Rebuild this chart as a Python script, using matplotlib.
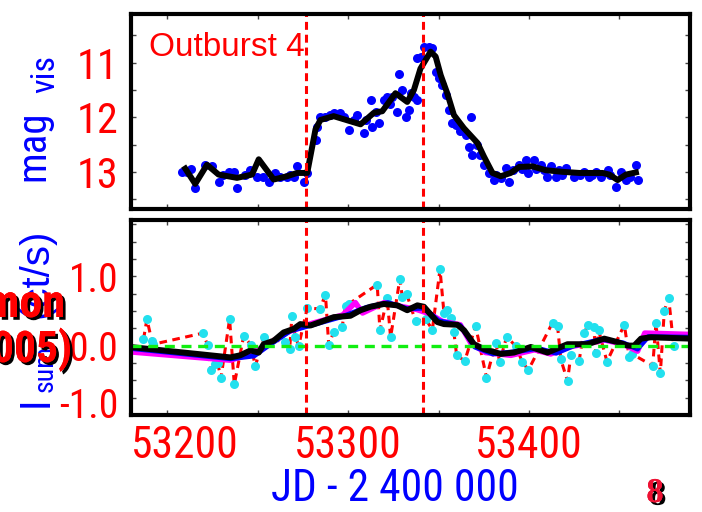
import matplotlib
matplotlib.use("Agg")
import matplotlib.pyplot as plt
import matplotlib.patheffects as pe
from matplotlib import font_manager as fm
from matplotlib.transforms import ScaledTranslation

# visual estimates, JD - 2400000
vis_jd = [53208.1, 53210.9, 53213.0, 53215.5, 53221.0, 53224.7, 53228.4, 53231.0, 53233.9,
          53236.7, 53238.6, 53243.2, 53246.0, 53249.7, 53253.0, 53256.1, 53259.8, 53262.6,
          53266.3, 53268.0, 53269.9, 53271.8, 53275.5, 53277.4, 53282.0, 53282.9, 53284.7,
          53287.5, 53290.0, 53292.1, 53295.8, 53298.0, 53300.4, 53303.2, 53305.0, 53308.7,
          53310.0, 53312.4, 53313.3, 53315.2, 53317.0, 53319.8, 53321.6, 53323.0, 53324.4,
          53327.2, 53328.1, 53330.0, 53331.8, 53333.6, 53335.0, 53336.4, 53338.3, 53338.3,
          53340.1, 53341.9, 53344.7, 53346.6, 53348.4, 53350.2, 53352.1, 53353.9, 53355.7,
          53357.6, 53359.5, 53362.0, 53365.0, 53366.8, 53367.8, 53368.7, 53371.5, 53373.0,
          53375.1, 53377.9, 53380.7, 53382.0, 53384.4, 53387.2, 53389.0, 53390.9, 53394.6,
          53396.0, 53398.2, 53399.2, 53402.8, 53404.0, 53406.5, 53408.4, 53410.2, 53412.0,
          53414.8, 53416.6, 53418.0, 53420.4, 53425.0, 53428.0, 53430.5, 53433.3, 53435.0,
          53437.0, 53439.8, 53443.5, 53445.0, 53448.1, 53450.8, 53453.6, 53456.0, 53459.1,
          53460.1]
vis_mag = [13.00, 13.00, 12.95, 13.30, 12.87, 12.90, 13.18, 13.05, 13.00,
           13.00, 13.30, 13.06, 12.97, 13.09, 13.10, 13.18, 13.03, 13.09,
           13.09, 13.05, 13.09, 12.90, 13.18, 13.03, 12.42, 12.17, 11.99,
           11.99, 11.95, 11.93, 11.93, 12.00, 12.23, 12.05, 11.96, 12.29,
           12.05, 11.69, 12.17, 11.90, 12.11, 11.69, 11.63, 11.75, 11.63,
           11.90, 11.20, 11.50, 11.99, 11.87, 11.55, 11.63, 11.69, 10.92,
           10.89, 10.71, 10.71, 10.74, 11.17, 11.29, 11.41, 11.59, 11.87,
           12.11, 12.14, 12.25, 12.33, 12.54, 11.99, 12.69, 12.51, 12.70,
           12.87, 13.03, 13.15, 13.05, 13.12, 12.93, 13.18, 12.97, 12.87,
           12.95, 12.78, 13.03, 12.78, 12.95, 12.87, 12.97, 13.09, 12.90,
           13.09, 12.97, 13.05, 12.93, 13.09, 13.05, 13.00, 13.09, 13.05,
           13.00, 13.09, 12.97, 13.05, 13.27, 13.00, 13.15, 13.10, 12.87,
           13.15]

# smoothed visual light curve
smooth_jd = [53210.0, 53215.5, 53222.0, 53228.4, 53238.6, 53246.9, 53250.6, 53258.9, 53266.3,
             53271.8, 53277.4, 53282.0, 53284.7, 53292.0, 53306.9, 53314.2, 53318.9, 53326.2,
             53332.7, 53336.4, 53340.0, 53345.6, 53348.4, 53351.2, 53354.8, 53358.5, 53364.0,
             53371.5, 53375.1, 53379.8, 53384.4, 53389.9, 53394.6, 53402.0, 53409.3, 53418.6,
             53427.8, 53440.7, 53444.4, 53449.0, 53453.6, 53459.1]
smooth_mag = [12.94, 13.22, 12.87, 13.05, 13.11, 13.05, 12.77, 13.14, 13.08,
              13.02, 13.02, 12.22, 12.05, 11.98, 12.13, 11.92, 11.89, 11.56,
              11.72, 11.50, 11.11, 10.80, 10.89, 11.23, 11.56, 11.96, 12.20,
              12.47, 12.72, 13.02, 13.08, 13.02, 12.91, 12.90, 12.97, 13.00,
              13.02, 13.02, 13.05, 13.15, 13.05, 13.01]

# count rate points
rate_jd = [53186.9, 53188.8, 53191.5, 53192.4, 53219.8, 53222.3, 53224.2, 53226.6, 53227.9,
           53229.7, 53234.5, 53237.1, 53242.3, 53246.3, 53248.7, 53253.3, 53265.3, 53267.7,
           53269.0, 53270.9, 53272.7, 53277.4, 53284.3, 53287.5, 53289.3, 53292.1, 53296.7,
           53298.6, 53300.4, 53316.1, 53317.6, 53321.6, 53323.5, 53328.6, 53330.0, 53332.3,
           53337.3, 53342.9, 53346.6, 53350.8, 53353.0, 53354.9, 53357.1, 53358.5, 53360.0,
           53364.5, 53370.5, 53376.5, 53381.6, 53383.8, 53387.7, 53392.7, 53396.4, 53399.7,
           53413.0, 53415.8, 53417.6, 53421.3, 53423.1, 53427.7, 53430.2, 53432.7, 53435.7,
           53437.0, 53438.5, 53443.1, 53452.7, 53455.4, 53456.9, 53468.4, 53470.2, 53472.6,
           53474.8, 53477.2, 53480.0]
rate_val = [0.09, 0.38, 0.07, 0.02, 0.18, 0.01, -0.35, -0.27, -0.25,
            -0.47, 0.38, -0.56, 0.14, 0.01, -0.30, 0.12, 0.05, -0.05,
            0.43, 0.12, 0.00, 0.54, 0.53, 0.73, 0.01, 0.20, 0.27,
            0.57, 0.60, 0.88, 0.22, 0.68, 0.12, 0.96, 0.70, 0.75,
            0.35, 0.38, 0.23, 1.10, 0.47, 0.52, 0.40, 0.19, -0.14,
            -0.22, 0.28, -0.46, 0.04, -0.23, 0.13, -0.01, -0.24, -0.35,
            0.33, 0.28, -0.20, -0.51, -0.14, -0.22, 0.18, 0.29, 0.27,
            -0.11, 0.22, -0.23, 0.30, -0.17, -0.12, -0.29, 0.33, -0.40,
            0.50, 0.69, -0.01]

# running means
mean_jd = [53179.5, 53234.9, 53240.4, 53246.0, 53250.6, 53253.3, 53258.9, 53264.4, 53269.9,
           53273.6, 53279.2, 53284.7, 53292.1, 53301.3, 53306.9, 53312.4, 53319.8, 53327.2,
           53332.7, 53338.3, 53341.9, 53349.3, 53353.0, 53360.4, 53364.1, 53369.6, 53375.1,
           53384.4, 53391.7, 53401.0, 53410.2, 53421.3, 53432.4, 53441.6, 53449.0, 53454.5,
           53458.2, 53461.9, 53467.4, 53490.0]
mean_val = [-0.02, -0.17, -0.14, -0.07, -0.10, 0.02, 0.07, 0.19, 0.24,
            0.31, 0.29, 0.34, 0.41, 0.43, 0.51, 0.56, 0.60, 0.58,
            0.51, 0.58, 0.56, 0.34, 0.31, 0.30, 0.22, 0.02, -0.05,
            -0.12, -0.10, -0.02, -0.10, 0.02, 0.02, 0.10, 0.05, 0.00,
            0.00, 0.10, 0.12, 0.10]

mag_jd = [53179.5, 53235.0, 53246.0, 53256.0, 53266.0, 53280.0, 53297.0, 53304.0, 53308.0,
          53320.0, 53330.0, 53338.0, 53345.0, 53352.0, 53362.0, 53368.0, 53376.0, 53390.0,
          53403.0, 53412.0, 53422.0, 53432.0, 53442.0, 53452.0, 53460.0, 53464.0, 53490.0]
mag_val = [-0.09, -0.21, -0.12, 0.02, 0.19, 0.32, 0.44, 0.62, 0.47,
           0.62, 0.56, 0.52, 0.46, 0.35, 0.30, 0.03, -0.10, -0.14,
           -0.06, -0.12, -0.02, 0.03, 0.08, 0.02, -0.08, 0.18, 0.16]

blue_jd = [53179.5, 53235.0, 53248.0, 53256.0, 53268.0, 53282.0, 53297.0, 53310.0, 53322.0,
           53333.0, 53342.0, 53350.0, 53362.0, 53370.0, 53380.0, 53395.0, 53405.0, 53415.0,
           53425.0, 53440.0, 53452.0, 53460.0, 53466.0, 53490.0]
blue_val = [-0.04, -0.19, -0.15, 0.00, 0.21, 0.31, 0.42, 0.55, 0.62,
            0.53, 0.54, 0.36, 0.29, -0.02, -0.12, -0.08, -0.04, -0.11,
            0.00, 0.09, 0.04, -0.05, 0.13, 0.12]

outburst_lines = [53276.5, 53341.5]

x_ticks = [53200, 53250, 53300, 53350, 53400, 53450]
x_labels = ["53200", "", "53300", "", "53400", ""]
top_ticks = [10.5, 11, 11.5, 12, 12.5, 13, 13.5]
top_labels = ["", "11", "", "12", "", "13", ""]
bot_ticks = [-1.0, -0.75, -0.5, -0.25, 0.0, 0.25, 0.5, 0.75, 1.0, 1.25, 1.5, 1.75]
bot_labels = ["-1.0", "", "", "", "0.0", "", "", "", "1.0", "", "", ""]

# narrow font if there is one, else shrink the regular one
installed = {f.name for f in fm.fontManager.ttflist}
if "Liberation Sans Narrow" in installed:
    fam, k = "Liberation Sans Narrow", 1.0
elif "Roboto Condensed" in installed:
    fam, k = "Roboto Condensed", 0.95
else:
    fam, k = "Liberation Sans", 0.86
plt.rcParams["font.family"] = [fam, "DejaVu Sans"]

W, H = 702, 512
fig = plt.figure(figsize=(W / 100, H / 100), dpi=100)
ax1 = fig.add_axes([131 / W, 1 - 209 / H, 559 / W, 195 / H])
ax2 = fig.add_axes([131 / W, 1 - 415 / H, 559 / W, 195 / H])

for ax in (ax1, ax2):
    for s in ax.spines.values():
        s.set_linewidth(3)
    ax.tick_params(direction="in", length=3.5, width=1, color="#444444",
                   top=True, right=True, labelcolor="red", pad=9)
    ax.set_xlim(53180, 53489)
    ax.set_xticks(x_ticks)

# top panel
ax1.plot(vis_jd, vis_mag, "o", color="blue", ms=6.5, mew=0)
ax1.plot(smooth_jd, smooth_mag, color="black", lw=4.3, solid_joinstyle="round")
for xv in outburst_lines:
    ax1.axvline(xv, color="red", lw=2.2, ls=(0, (2.6, 1.6)))
ax1.set_ylim(13.68, 10.11)
ax1.set_yticks(top_ticks)
ax1.set_yticklabels(top_labels, fontsize=32 * k)
ax1.set_xticklabels([])
ax1.text(53190, 10.72, "Outburst 4", color="red", fontsize=24,
         family="Liberation Sans", va="center")

# bottom panel
ax2.plot(rate_jd, rate_val, color="red", lw=2.2, ls=(0, (2.5, 1.8)))
ax2.plot(rate_jd, rate_val, "o", color="#22e0ee", ms=6.5, mew=0)
ax2.plot(mag_jd, mag_val, color="magenta", lw=4)
ax2.plot(blue_jd, blue_val, color="blue", lw=3.5)
ax2.plot(mean_jd, mean_val, color="black", lw=4.3)
ax2.axhline(0.0, color="#11ee11", lw=2.4, ls=(0, (3.0, 2.0)))
for xv in outburst_lines:
    ax2.axvline(xv, color="red", lw=2.2, ls=(0, (2.6, 1.6)))
ax2.set_ylim(-1.0, 1.81)
ax2.set_yticks(bot_ticks)
ax2.set_yticklabels(bot_labels, fontsize=30 * k)
ax2.set_xticklabels(x_labels, fontsize=33 * k)
ax2.tick_params(axis="x", pad=7)

# nudge edge labels like the original
lab = ax2.get_yticklabels()[0]
lab.set_transform(lab.get_transform() + ScaledTranslation(0, 12 / 100, fig.dpi_scale_trans))
lab = ax2.get_xticklabels()[0]
lab.set_transform(lab.get_transform() + ScaledTranslation(18 / 100, 0, fig.dpi_scale_trans))

def px(x, y):
    return x / W, 1 - y / H

# axis titles
fig.text(*px(44, 146), "mag", color="blue", fontsize=31 * k, rotation=90,
         rotation_mode="anchor", ha="center", va="baseline")
fig.text(*px(54, 74), "vis", color="blue", fontsize=26 * k, rotation=90,
         rotation_mode="anchor", ha="center", va="baseline")
fig.text(*px(47, 273), "(ct/s)", color="blue", fontsize=29, rotation=90,
         rotation_mode="anchor", ha="center", va="baseline", family="Liberation Sans")
fig.text(*px(53, 368), "sum", color="blue", fontsize=21 * k, rotation=90,
         rotation_mode="anchor", ha="center", va="baseline")
fig.text(*px(48, 402), "I", color="blue", fontsize=32 * k, rotation=90,
         rotation_mode="anchor", ha="center", va="baseline")

shadow = [pe.withSimplePatchShadow(offset=(2, -2), shadow_rgbFace="black", alpha=1.0), pe.Normal()]
fig.text(*px(65, 317), "Simon", color="red", fontsize=35 * k, fontweight="bold",
         ha="right", va="baseline", path_effects=shadow)
fig.text(*px(72, 362), "(2005)", color="red", fontsize=33 * k, fontweight="bold",
         ha="right", va="baseline", path_effects=shadow)

fig.text(*px(395, 501), "JD - 2 400 000", color="blue", fontsize=33 * k,
         ha="center", va="baseline")
fig.text(*px(655, 502), "8", color="#ee1133", fontsize=25, fontweight="bold",
         family="Liberation Serif", ha="center", va="baseline", path_effects=shadow)

fig.savefig("out.png", dpi=100)
